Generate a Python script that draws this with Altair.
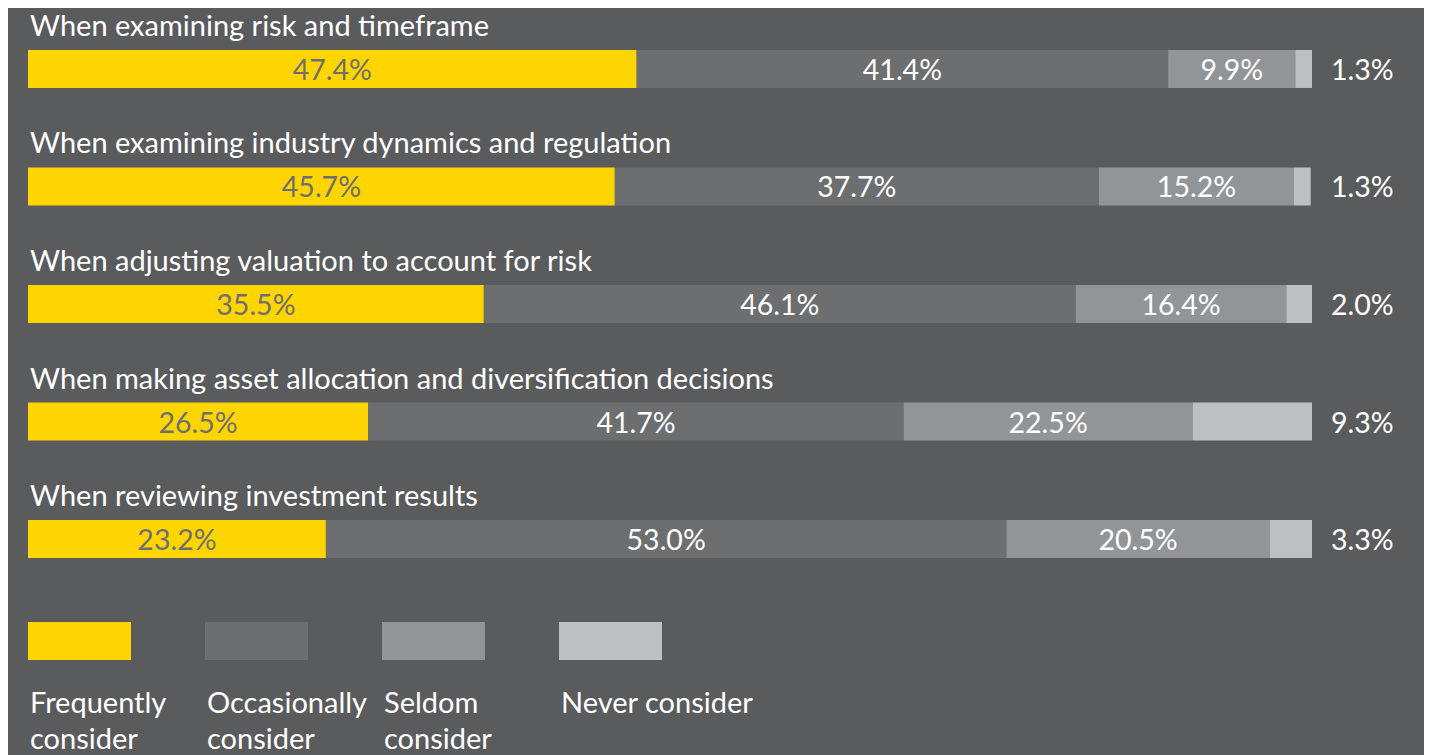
import altair as alt
import pandas as pd

categories = [
    "When examining risk and timeframe",
    "When examining industry dynamics and regulation",
    "When adjusting valuation to account for risk",
    "When making asset allocation and diversification decisions",
    "When reviewing investment results",
]
series = ["Frequently consider", "Occasionally consider", "Seldom consider", "Never consider"]
legend_labels = ["Frequently\nconsider", "Occasionally\nconsider", "Seldom\nconsider", "Never consider"]
frequently = [47.4, 45.7, 35.5, 26.5, 23.2]
occasionally = [41.4, 37.7, 46.1, 41.7, 53.0]
seldom = [9.9, 15.2, 16.4, 22.5, 20.5]
never = [1.3, 1.3, 2.0, 9.3, 3.3]
colors = ["#ffd500", "#6d6e70", "#929598", "#bebfc1"]
BG = "#5a5b5d"
FONT = "Lato"

rows = []
for i, cat in enumerate(categories):
    vals = [frequently[i], occasionally[i], seldom[i], never[i]]
    start = 0.0
    for j, s in enumerate(series):
        v = vals[j]
        rows.append({
            "category": cat, "series": s, "order": j, "value": v,
            "start": start, "end": start + v, "mid": start + v / 2,
            "label": f"{v:.1f}%",
        })
        start += v
df = pd.DataFrame(rows)

W = 1284
H = 592
yscale = alt.Scale(domain=categories, paddingInner=1 - 38 / 117.5, paddingOuter=0.357)
xscale = alt.Scale(domain=[0, 100], nice=False, zero=True)
cscale = alt.Scale(domain=series, range=colors)

base = alt.Chart(df)
y = alt.Y("category:N", sort=categories, scale=yscale, axis=None)

bars = base.mark_bar(cornerRadius=0).encode(
    x=alt.X("start:Q", scale=xscale, axis=None),
    x2="end:Q",
    y=y,
    color=alt.Color("series:N", scale=cscale, legend=None),
)

inner = base.transform_filter(alt.datum.order < 3).mark_text(
    font=FONT, fontSize=28.5, baseline="alphabetic", dy=11, align="center"
).encode(
    x=alt.X("mid:Q", scale=xscale, axis=None),
    y=y,
    text="label:N",
    color=alt.condition(alt.datum.order == 0, alt.value("#6d6e70"), alt.value("#ffffff")),
)

outer = base.transform_filter(alt.datum.order == 3).mark_text(
    font=FONT, fontSize=28.5, baseline="alphabetic", dy=11, dx=19, align="left", color="#ffffff"
).encode(
    x=alt.value(W),
    y=y,
    text="label:N",
)

titles = base.transform_filter(alt.datum.order == 0).mark_text(
    font=FONT, fontSize=29, baseline="alphabetic", dy=-33, dx=2, align="left", color="#ffffff"
).encode(
    x=alt.X("start:Q", scale=xscale, axis=None),
    y=y,
    text="category:N",
)

main = alt.layer(bars, inner, outer, titles).properties(width=W, height=H)

leg_df = pd.DataFrame({"series": series, "text": legend_labels})
lx = alt.X("series:N", sort=series, axis=None,
           scale=alt.Scale(domain=series, paddingInner=1 - 103 / 177, paddingOuter=0))
leg_box = alt.Chart(leg_df).mark_bar().encode(
    x=lx,
    color=alt.Color("series:N", scale=cscale, legend=None),
)
leg_text = alt.Chart(leg_df).mark_text(
    font=FONT, fontSize=29, baseline="alphabetic", align="left", dx=-49.5, dy=72,
    lineBreak="\n", lineHeight=36, color="#ffffff",
).encode(
    x=lx,
    text="text:N",
)
legend = alt.layer(leg_box, leg_text).properties(width=634, height=38)

chart = alt.vconcat(main, legend, spacing=22).properties(
    background=BG,
    padding={"left": 20, "top": 0, "right": 30, "bottom": 0},
).configure_view(stroke=None)

chart.save("out.html", embed_options={"renderer": "svg", "actions": False})
